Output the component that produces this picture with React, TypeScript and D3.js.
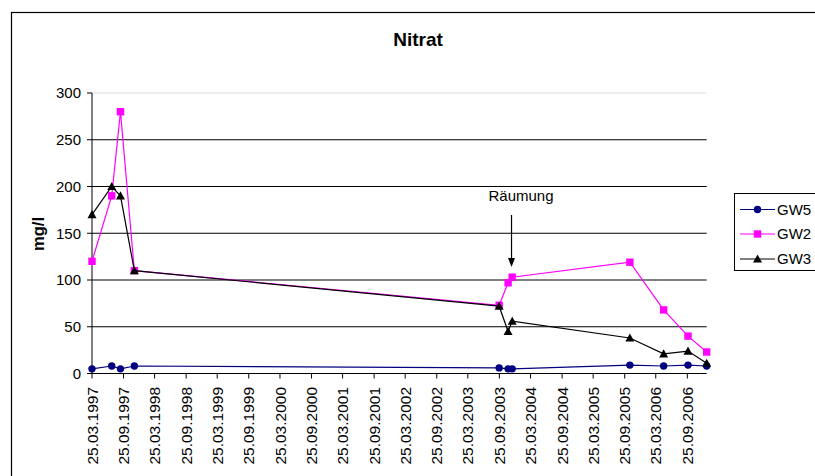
import React from "react";
import * as d3 from "d3";

const dates = [
  "1997-03-25", "1997-07-18", "1997-09-07", "1997-11-27",
  "2003-09-24", "2003-11-15", "2003-12-09",
  "2005-10-25", "2006-05-10", "2006-09-29", "2007-01-16",
];
const gw5 = [5, 8, 5, 8, 6, 5, 5, 9, 8, 9, 8];
const gw2 = [120, 190, 280, 110, 73, 97, 103, 119, 68, 40, 23];
const gw3 = [170, 200, 190, 110, 72, 45, 56, 38, 21, 24, 11];
const yTicks = [0, 50, 100, 150, 200, 250, 300];
const xTickLabels = [
  "25.03.1997", "25.09.1997", "25.03.1998", "25.09.1998", "25.03.1999",
  "25.09.1999", "25.03.2000", "25.09.2000", "25.03.2001", "25.09.2001",
  "25.03.2002", "25.09.2002", "25.03.2003", "25.09.2003", "25.03.2004",
  "25.09.2004", "25.03.2005", "25.09.2005", "25.03.2006", "25.09.2006",
];
const seriesNames = ["GW5", "GW2", "GW3"];
const colors = ["#000080", "#FF00FF", "#000000"];

const FONT = "'Liberation Sans', Arial, sans-serif";

function parseDmy(s: string) {
  const [d, m, y] = s.split(".").map(Number);
  return new Date(y, m - 1, d);
}

export default function App() {
  const left = 92, right = 706.7, top = 93, bottom = 373.5;
  const parsed = dates.map((s) => d3.timeParse("%Y-%m-%d")(s) as Date);
  const x = d3.scaleTime().domain([parsed[0], parsed[parsed.length - 1]]).range([left, right]);
  const y = d3.scaleLinear().domain([0, 300]).range([bottom, top]);
  const line = d3.line<[Date, number]>().x((d) => x(d[0])).y((d) => y(d[1]));
  const allSeries = [gw5, gw2, gw3];

  const marker = (i: number, cx: number, cy: number, key: string | number) => {
    if (i === 0) return <circle key={key} cx={cx} cy={cy} r={3.7} fill={colors[0]} />;
    if (i === 1)
      return <rect key={key} x={cx - 3.7} y={cy - 3.7} width={7.4} height={7.4} fill={colors[1]} />;
    const s = 4.5;
    return (
      <path key={key} d={`M${cx},${cy - s}L${cx + s},${cy + s * 0.8}L${cx - s},${cy + s * 0.8}Z`} fill="#000" />
    );
  };

  const arrowX = x(d3.timeParse("%Y-%m-%d")("2003-12-05") as Date);

  return (
    <svg width={815} height={476} style={{ position: "absolute", left: 0, top: 0, background: "#fff" }} fontFamily={FONT}>
      <rect x={0} y={0} width={815} height={476} fill="#fff" />
      <rect x={11.5} y={12.5} width={830} height={480} fill="none" stroke="#000" strokeWidth={1.2} />
      <text x={418} y={46} textAnchor="middle" fontSize={19} fontWeight="bold">Nitrat</text>

      {yTicks.map((t) => (
        <g key={t}>
          {t > 0 && (
            <line x1={left} x2={right} y1={y(t)} y2={y(t)} stroke={t === 300 ? "#dddddd" : "#000"} strokeWidth={1} />
          )}
          <line x1={left - 5} x2={left} y1={y(t)} y2={y(t)} stroke="#000" />
          <text x={81} y={y(t)} dy="0.36em" textAnchor="end" fontSize={15}>{t}</text>
        </g>
      ))}
      <line x1={left} x2={left} y1={top} y2={bottom} stroke="#000" />
      <line x1={left} x2={right} y1={bottom} y2={bottom} stroke="#000" />
      <text transform={`translate(44,234) rotate(-90)`} textAnchor="middle" fontSize={16.5} fontWeight="bold">mg/l</text>

      {xTickLabels.map((lab) => {
        const tx = x(parseDmy(lab));
        return (
          <g key={lab}>
            <line x1={tx} x2={tx} y1={bottom} y2={bottom + 5} stroke="#000" />
            <text transform={`translate(${tx},${bottom + 13.5}) rotate(-90)`} dy="0.36em" textAnchor="end" fontSize={15.5}>{lab}</text>
          </g>
        );
      })}

      {allSeries.map((vals, i) => {
        const pts: [Date, number][] = vals.map((v, j) => [parsed[j], v]);
        return (
          <g key={i}>
            <path d={line(pts) || ""} fill="none" stroke={colors[i]} strokeWidth={1.2} />
            {pts.map((p, j) => marker(i, x(p[0]), y(p[1]), j))}
          </g>
        );
      })}

      <text x={521} y={201} textAnchor="middle" fontSize={15}>Räumung</text>
      <line x1={arrowX} x2={arrowX} y1={215} y2={260} stroke="#000" strokeWidth={1.2} />
      <path d={`M${arrowX - 3.5},${258}L${arrowX + 3.5},${258}L${arrowX},${267}Z`} fill="#000" />

      <rect x={734.5} y={193.5} width={100} height={77} fill="#fff" stroke="#000" />
      {seriesNames.map((n, i) => {
        const ly = [209.5, 234, 259][i];
        return (
          <g key={n}>
            <line x1={740} x2={775} y1={ly} y2={ly} stroke={colors[i]} strokeWidth={1.2} />
            {marker(i, 757.5, ly, "m" + n)}
            <text x={777} y={ly} dy="0.36em" fontSize={15}>{n}</text>
          </g>
        );
      })}
    </svg>
  );
}
